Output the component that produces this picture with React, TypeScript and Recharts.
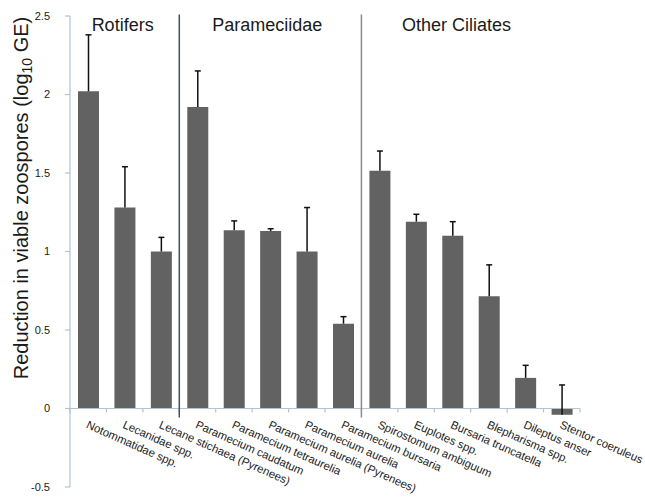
import React from 'react';
import {
  BarChart,
  Bar,
  XAxis,
  YAxis,
  ReferenceLine,
  LabelList,
} from 'recharts';

const categories = [
  'Notommatidae spp.',
  'Lecanidae spp.',
  'Lecane stichaea (Pyrenees)',
  'Paramecium caudatum',
  'Paramecium tetraurelia',
  'Paramecium aurelia (Pyrenees)',
  'Paramecium aurelia',
  'Paramecium bursaria',
  'Spirostomum ambiguum',
  'Euplotes spp.',
  'Bursaria truncatella',
  'Blepharisma spp.',
  'Dileptus anser',
  'Stentor coeruleus',
];

const values = [2.02, 1.28, 1.0, 1.92, 1.135, 1.13, 1.0, 0.54, 1.515, 1.19, 1.1, 0.715, 0.195, -0.04];
const errors = [0.36, 0.26, 0.09, 0.23, 0.06, 0.015, 0.28, 0.045, 0.125, 0.047, 0.09, 0.2, 0.08, 0.19];

const yTicks = [-0.5, 0, 0.5, 1, 1.5, 2, 2.5];

const groupTitles = ['Rotifers', 'Parameciidae', 'Other Ciliates'];
const groupTitleCategory = ['Lecanidae spp.', 'Paramecium aurelia (Pyrenees)', 'Bursaria truncatella'];
const groupTitleShift = [-2, -3, 4];
const dividerAfter = ['Lecane stichaea (Pyrenees)', 'Paramecium bursaria'];
const dividerColors = ['#3b5366', '#848e95'];

const data = categories.map((name, i) => ({
  name,
  value: values[i],
  err: errors[i],
}));

const FONT = '"Liberation Sans", Arial, Helvetica, sans-serif';
const AXIS_COLOR = '#b3c3cf';

function geom(props: any) {
  const vb = props.viewBox || {};
  const x = props.x ?? vb.x;
  const y = props.y ?? vb.y;
  const width = props.width ?? vb.width;
  const height = props.height ?? vb.height;
  let index = props.index;
  if (index === undefined || index === null) index = categories.indexOf(props.value);
  const v = values[index];
  const top = Math.min(y, y + height);
  const bottom = Math.max(y, y + height);
  const zero = v >= 0 ? bottom : top;
  const valuePx = v >= 0 ? top : bottom;
  return { x, width, index, v, zero, valuePx, ppu: Math.abs(height) / Math.abs(v) };
}

const CatLabel = (props: any) => {
  const { x, width, index, zero } = geom(props);
  const cx = x + width / 2 - 3;
  const ty = zero + 19;
  return (
    <text
      x={cx}
      y={ty}
      transform={`rotate(24, ${cx}, ${ty})`}
      fontSize={11.4}
      fill="#1a1a1a"
      fontFamily={FONT}
      textAnchor="start"
    >
      {categories[index]}
    </text>
  );
};

const ErrMark = (props: any) => {
  const { x, width, index, v, zero, valuePx, ppu } = geom(props);
  const cx = x + width / 2;
  const errPx = zero - (v + errors[index]) * ppu;
  return (
    <g stroke="#111" strokeWidth={1.5}>
      <line x1={cx} y1={valuePx} x2={cx} y2={errPx} />
      <line x1={cx - 3} y1={errPx} x2={cx + 3} y2={errPx} />
    </g>
  );
};

const YLabel = () => (
  <text
    x={28}
    y={198}
    transform="rotate(-90, 28, 198)"
    textAnchor="middle"
    fontSize={20}
    fill="#1a1a1a"
    fontFamily={FONT}
  >
    <tspan>Reduction in viable zoospores (log</tspan>
    <tspan fontSize={14} dy={4}>10</tspan>
    <tspan dy={-4}> GE)</tspan>
  </text>
);

export default function App() {
  const last = categories[categories.length - 1];
  return (
    <div style={{ position: 'absolute', left: 0, top: 0, width: 645, height: 500, background: '#fff' }}>
      <BarChart
        width={645}
        height={500}
        data={data}
        margin={{ top: 16, right: 65, bottom: 13, left: 0 }}
        barSize={21}
      >
        <XAxis dataKey="name" hide />
        <YAxis
          domain={[-0.5, 2.5]}
          ticks={yTicks}
          width={70}
          allowDataOverflow
          axisLine={{ stroke: AXIS_COLOR, strokeWidth: 1.2 }}
          tickLine={{ stroke: AXIS_COLOR, strokeWidth: 1.2 }}
          tickSize={5}
          tickMargin={15}
          tick={{ fontSize: 11, fill: '#1a1a1a', fontFamily: FONT }}
          label={<YLabel />}
        />
        <Bar dataKey="value" fill="#626262" isAnimationActive={false}>
          <LabelList dataKey="err" content={<ErrMark />} />
          <LabelList dataKey="name" content={<CatLabel />} />
        </Bar>
        <ReferenceLine y={0} stroke={AXIS_COLOR} strokeWidth={1.2} />
        {categories.map((c) => (
          <ReferenceLine
            key={'t' + c}
            position="start"
            segment={[{ x: c, y: 0 }, { x: c, y: -0.025 }]}
            stroke={AXIS_COLOR}
            strokeWidth={1.2}
            ifOverflow="visible"
          />
        ))}
        <ReferenceLine
          position="end"
          segment={[{ x: last, y: 0 }, { x: last, y: -0.025 }]}
          stroke={AXIS_COLOR}
          strokeWidth={1.2}
          ifOverflow="visible"
        />
        {dividerAfter.map((d, i) => (
          <ReferenceLine
            key={'d' + d}
            position="end"
            segment={[{ x: d, y: 2.51 }, { x: d, y: -0.057 }]}
            stroke={dividerColors[i]}
            strokeWidth={1.5}
            ifOverflow="visible"
          />
        ))}
        {groupTitles.map((g, i) => (
          <ReferenceLine
            key={'g' + g}
            x={groupTitleCategory[i]}
            stroke="none"
            label={{
              value: g,
              position: 'insideTop',
              offset: 2,
              dx: groupTitleShift[i],
              fontSize: 18,
              fill: '#1a1a1a',
              fontFamily: FONT,
            }}
          />
        ))}
      </BarChart>
    </div>
  );
}
